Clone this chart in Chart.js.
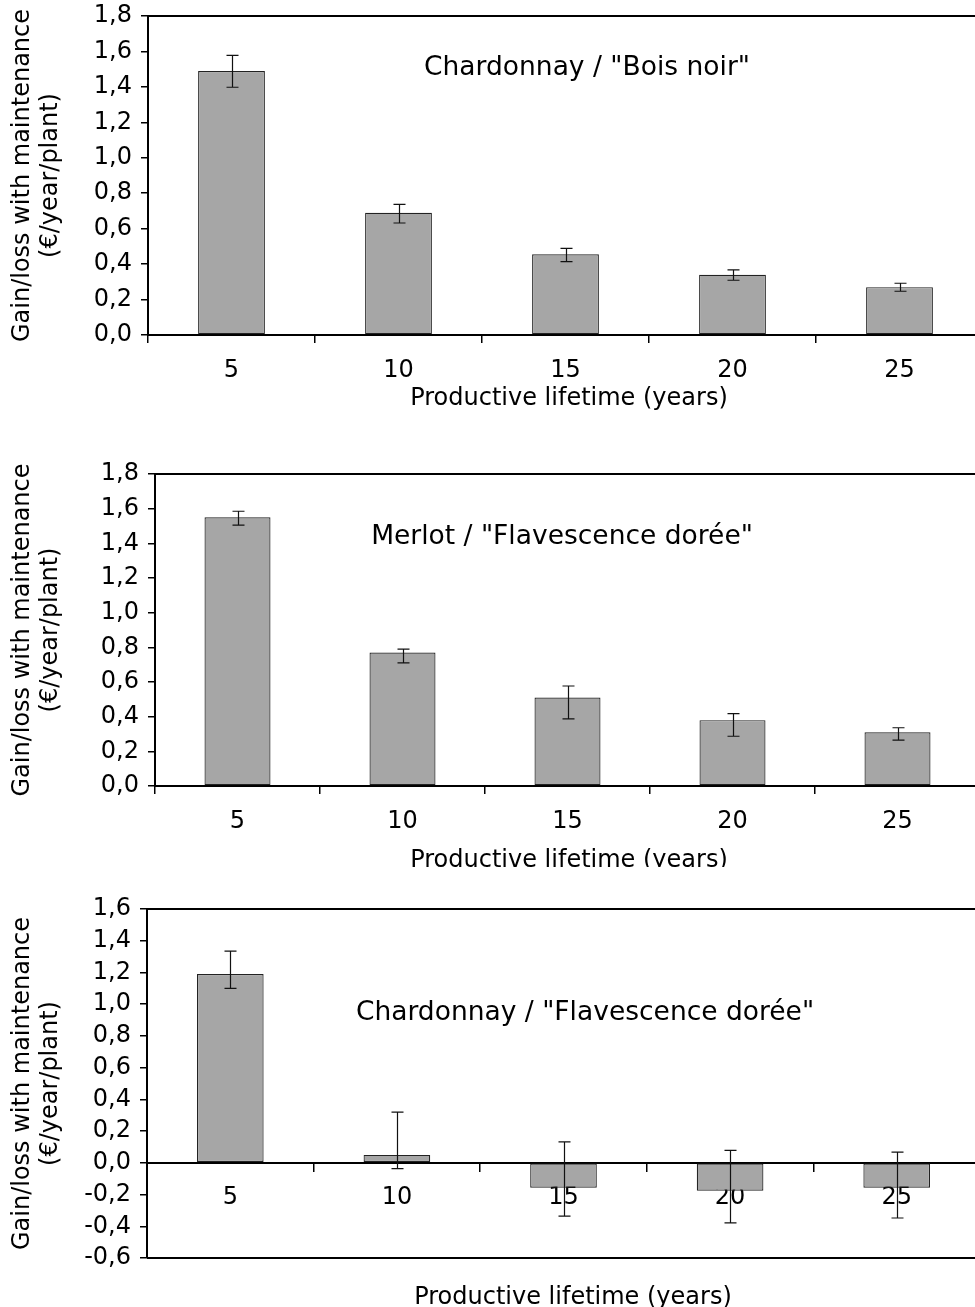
<!DOCTYPE html>
<html><head><meta charset="utf-8">
<script src="https://cdn.jsdelivr.net/npm/chart.js@4.4.1/dist/chart.umd.min.js"></script>
<style>
html,body{margin:0;padding:0;background:#fff;overflow:hidden;width:975px;height:1307px;position:relative;}
.p{position:absolute;left:0;width:990px;overflow:hidden;}
canvas{display:block;}
</style></head><body>
<div class="p" style="top:0;height:420px"><canvas id="c1" width="990" height="420"></canvas></div>
<div class="p" style="top:440px;height:427px"><canvas id="c2" width="990" height="427"></canvas></div>
<div class="p" style="top:870px;height:437px"><canvas id="c3" width="990" height="437"></canvas></div>
<script>
// ---- data ----
const categories = ['5', '10', '15', '20', '25'];

const boisNoirValues = [1.49, 0.69, 0.455, 0.34, 0.27];
const boisNoirUpper  = [1.578, 0.737, 0.489, 0.367, 0.292];
const boisNoirLower  = [1.398, 0.632, 0.414, 0.309, 0.247];

const merlotValues = [1.55, 0.77, 0.51, 0.38, 0.31];
const merlotUpper  = [1.585, 0.79, 0.577, 0.417, 0.336];
const merlotLower  = [1.505, 0.71, 0.387, 0.287, 0.265];

const chardFdValues = [1.19, 0.05, -0.157, -0.176, -0.157];
const chardFdUpper  = [1.334, 0.32, 0.132, 0.079, 0.067];
const chardFdLower  = [1.10, -0.036, -0.336, -0.378, -0.348];

const yTicksPositive = [0, 0.2, 0.4, 0.6, 0.8, 1.0, 1.2, 1.4, 1.6, 1.8];
const yTicksMixed = [-0.6, -0.4, -0.2, 0, 0.2, 0.4, 0.6, 0.8, 1.0, 1.2, 1.4, 1.6];

const yTitle = ['Gain/loss with maintenance', '(€/year/plant)'];
const xTitle = 'Productive lifetime (years)';
const titles = ['Chardonnay / "Bois noir"', 'Merlot / "Flavescence dorée"', 'Chardonnay / "Flavescence dorée"'];

// ---- drawing ----
const FONT = "'DejaVu Sans', Verdana, sans-serif";
Chart.defaults.font.family = FONT;
Chart.defaults.color = '#000';

const fmt = v => (Math.round(v * 10) / 10).toFixed(1).replace('.', ',');

const decorPlugin = {
  id: 'decor',
  beforeDatasetsDraw(chart, args, o) {
    const {ctx, chartArea: a} = chart;
    ctx.save();
    ctx.strokeStyle = '#000';
    ctx.lineWidth = 2;
    ctx.beginPath();
    ctx.moveTo(a.left, a.top); ctx.lineTo(a.right + 20, a.top);
    if (o.frameBottom) { ctx.moveTo(a.left, a.bottom); ctx.lineTo(a.right + 20, a.bottom); }
    ctx.stroke();
    ctx.restore();
  },
  afterDatasetsDraw(chart, args, o) {
    const {ctx, chartArea: a} = chart;
    const ys = chart.scales.y;
    const meta = chart.getDatasetMeta(0);
    ctx.save();
    ctx.strokeStyle = '#111';
    ctx.lineWidth = 1.2;
    meta.data.forEach((bar, i) => {
      const x = Math.round(bar.x) + 0.5;
      const yh = ys.getPixelForValue(o.upper[i]);
      const yl = ys.getPixelForValue(o.lower[i]);
      ctx.beginPath();
      ctx.moveTo(x, yh); ctx.lineTo(x, yl);
      ctx.moveTo(x - 6, yh); ctx.lineTo(x + 6, yh);
      ctx.moveTo(x - 6, yl); ctx.lineTo(x + 6, yl);
      ctx.stroke();
    });
    // in-plot title
    ctx.fillStyle = '#000';
    ctx.font = o.titleSize + 'px ' + FONT;
    ctx.textAlign = 'center';
    ctx.textBaseline = 'middle';
    ctx.fillText(o.title, o.titleX, o.titleY);
    // y title
    const cy = (a.top + a.bottom) / 2;
    ctx.font = '24px ' + FONT;
    ctx.save();
    ctx.translate(23, cy); ctx.rotate(-Math.PI / 2);
    ctx.fillText(yTitle[0], 0, 0);
    ctx.restore();
    ctx.save();
    ctx.translate(51, cy); ctx.rotate(-Math.PI / 2);
    ctx.fillText(yTitle[1], 0, 0);
    ctx.restore();
    // x title
    ctx.fillText(xTitle, o.xTitleX, o.xTitleY);
    ctx.restore();
  }
};

function makeChart(id, p) {
  return new Chart(document.getElementById(id), {
    type: 'bar',
    data: {
      labels: categories,
      datasets: [{
        data: p.values,
        backgroundColor: '#a6a6a6',
        borderColor: '#222',
        borderWidth: 1.2,
        borderSkipped: false,
        categoryPercentage: 1.0,
        barPercentage: 0.4
      }]
    },
    options: {
      responsive: false,
      animation: false,
      events: [],
      layout: {padding: {top: p.padTop, right: p.padRight, bottom: p.padBottom || 0, left: 0}},
      plugins: {
        legend: {display: false},
        tooltip: {enabled: false},
        decor: {
          upper: p.upper, lower: p.lower, title: p.title, titleX: p.titleX, titleY: p.titleY,
          titleSize: 26.5, xTitleX: p.xTitleX, xTitleY: p.xTitleY, frameBottom: !!p.frameBottom
        }
      },
      scales: {
        x: {
          position: p.xPos,
          offset: true,
          grid: {display: true, drawOnChartArea: false, drawTicks: true, tickLength: 8, offset: true, color: '#000', lineWidth: 1.5},
          border: {display: true, color: '#000', width: 2},
          ticks: {font: {size: 24}, color: '#000', padding: 13, maxRotation: 0, autoSkip: false},
          afterFit: s => { if (p.xHeight) s.height = p.xHeight; s.paddingLeft = 0; s.paddingRight = 0; }
        },
        y: {
          min: p.yMin, max: p.yMax,
          grid: {display: true, drawOnChartArea: false, drawTicks: true, tickLength: 7, color: '#000', lineWidth: 1.5},
          border: {display: true, color: '#000', width: 2},
          ticks: {font: {size: 24}, color: '#000', padding: 9, autoSkip: false, callback: v => fmt(v)},
          afterBuildTicks: s => { s.ticks = p.yTicks.map(v => ({value: v})); },
          afterFit: s => { s.width = p.yWidth; s.paddingTop = 0; s.paddingBottom = 0; }
        }
      }
    },
    plugins: [decorPlugin]
  });
}

makeChart('c1', {
  values: boisNoirValues, upper: boisNoirUpper, lower: boisNoirLower,
  yMin: 0, yMax: 1.8, yTicks: yTicksPositive,
  padTop: 16, padRight: 7, xHeight: 85, yWidth: 148, xPos: 'bottom',
  title: titles[0], titleX: 587, titleY: 68, xTitleX: 569, xTitleY: 399
});
makeChart('c2', {
  values: merlotValues, upper: merlotUpper, lower: merlotLower,
  yMin: 0, yMax: 1.8, yTicks: yTicksPositive,
  padTop: 34, padRight: 10, xHeight: 81, yWidth: 155, xPos: 'bottom',
  title: titles[1], titleX: 562, titleY: 97, xTitleX: 569, xTitleY: 421
});
makeChart('c3', {
  values: chardFdValues, upper: chardFdUpper, lower: chardFdLower,
  yMin: -0.6, yMax: 1.6, yTicks: yTicksMixed,
  padTop: 39, padRight: 10, padBottom: 49, yWidth: 147, xPos: {y: 0}, frameBottom: true,
  title: titles[2], titleX: 585, titleY: 143, xTitleX: 573, xTitleY: 428
});
</script>
</body></html>
